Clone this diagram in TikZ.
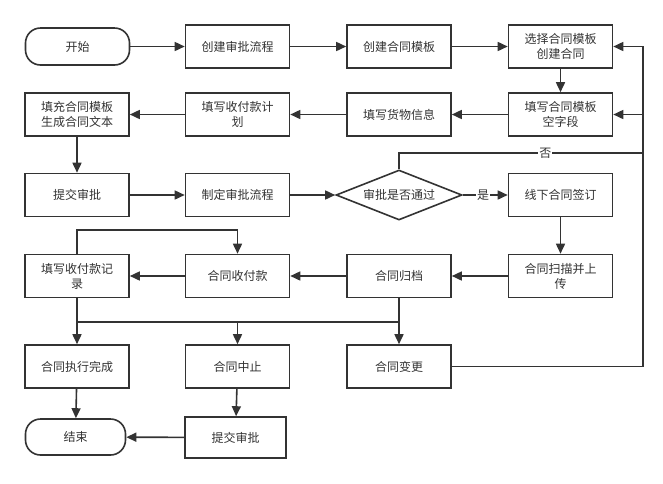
\documentclass[tikz,border=0pt]{standalone}
\usepackage{fontspec}
\newfontfamily\cjk{Noto Sans CJK SC}
\usetikzlibrary{arrows.meta,shapes.geometric}
\definecolor{ink}{HTML}{333333}
\begin{document}
\begin{tikzpicture}[x=1pt,y=-1pt,
  every node/.style={font=\cjk\fontsize{12}{15}\selectfont, text=ink},
  box/.style={draw=ink, line width=1.6pt, minimum width=104pt, minimum height=43pt, align=center, inner sep=1pt, fill=white},
  term/.style={box, rounded corners=15pt, minimum height=37pt},
  dec/.style={diamond, draw=ink, line width=1.6pt, aspect=2.6, inner sep=0pt, minimum width=126pt, minimum height=50pt, fill=white},
  conn/.style={draw=ink, line width=1.6pt, -{Triangle[length=10pt,width=9pt]}},
  plain/.style={draw=ink, line width=1.6pt},
  lab/.style={fill=white, inner sep=1pt}
]
\useasboundingbox (0,0) rectangle (663,483);
% row 1
\node[term] (start) at (77.5,46.5) {开始};
\node[box] (b1) at (237.5,46.5) {创建审批流程};
\node[box] (b2) at (399,46.5) {创建合同模板};
\node[box] (b3) at (560.5,46.5) {选择合同模板\\创建合同};
% row 2
\node[box] (b4) at (560.5,114.5) {填写合同模板\\空字段};
\node[box] (b5) at (399,114.5) {填写货物信息};
\node[box] (b6) at (237.5,114.5) {填写收付款计\\划};
\node[box] (b7) at (77,114.5) {填充合同模板\\生成合同文本};
% row 3
\node[box] (b8) at (77,195) {提交审批};
\node[box] (b9) at (237.5,195) {制定审批流程};
\node[dec] (d) at (399,195) {审批是否通过};
\node[box] (b10) at (560.5,195) {线下合同签订};
% row 4
\node[box] (b11) at (560.5,276) {合同扫描并上\\传};
\node[box] (b12) at (399,276) {合同归档};
\node[box] (b13) at (237.5,276) {合同收付款};
\node[box] (b14) at (77,276) {填写收付款记\\录};
% row 5
\node[box] (b15) at (77,366.5) {合同执行完成};
\node[box] (b16) at (237.5,366.5) {合同中止};
\node[box] (b17) at (399,366.5) {合同变更};
% row 6
\node[term, minimum width=100pt, minimum height=36pt] (end) at (75.5,437) {结束};
\node[box, minimum width=101pt, minimum height=41pt] (b18) at (235.5,437.5) {提交审批};

\coordinate (nyR) at (643,153);
\coordinate (chR) at (643,366.5);
\coordinate (lp) at (160,230);
\coordinate (bus) at (237.5,322);

\draw[conn] (start) -- (b1);
\draw[conn] (b1) -- (b2);
\draw[conn] (b2) -- (b3);
\draw[conn] (b3) -- (b4);
\draw[conn] (b4) -- (b5);
\draw[conn] (b5) -- (b6);
\draw[conn] (b6) -- (b7);
\draw[conn] (b7) -- (b8);
\draw[conn] (b8) -- (b9);
\draw[conn] (b9) -- (d);
\draw[conn] (d.east) -- node[lab,pos=0.45]{是} (b10.west);
\draw[conn] (d.north) |- node[lab,pos=0.8]{否} (nyR) |- (b3.east);
\draw[conn] (b17.east) -- (chR) |- (b4.east);
\draw[conn] (b10) -- (b11);
\draw[conn] (b11) -- (b12);
\draw[conn] (b12) -- (b13);
\draw[conn] (b13) -- (b14);
\draw[conn] (b14.north) |- (lp) -| (b13.north);
\draw[conn] (b14.south) -- (b15.north);
\draw[conn] (b12.south) -- (b17.north);
\draw[plain] (b14.south |- bus) -- (b12.south |- bus);
\draw[conn] (bus) -- (b16.north);
\draw[conn] (b15) -- (end);
\draw[conn] (b16) -- (b18);
\draw[conn] (b18) -- (end);
\end{tikzpicture}
\end{document}
